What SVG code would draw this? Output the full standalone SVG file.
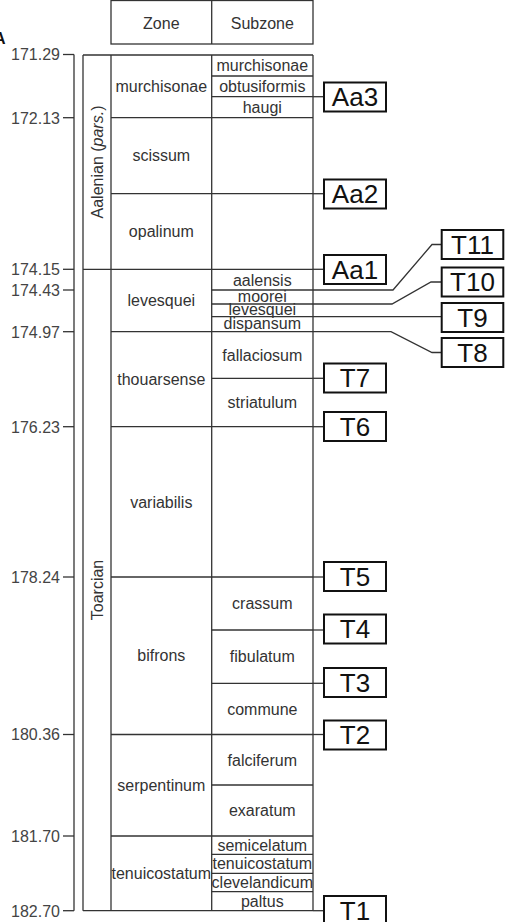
<svg xmlns="http://www.w3.org/2000/svg" width="506" height="922" viewBox="0 0 506 922">
<style>
text{font-family:"Liberation Sans",Arial,sans-serif;fill:#333}
.t{font-size:16px;text-anchor:middle}
.n{font-size:16px;text-anchor:end;fill:#444}
.ln{stroke:#333;stroke-width:1.3;fill:none}
.bx{fill:#fff;stroke:#111;stroke-width:2}
.bt{font-size:26px;text-anchor:middle;fill:#111}
</style>
<rect width="506" height="922" fill="#fff"/>
<text x="-6" y="43.5" style="font-size:16px;font-weight:bold;fill:#111">A</text>

<g id="header">
<rect class="ln" x="111" y="0.5" width="202" height="43.5"/>
<line class="ln" x1="211.7" y1="0.5" x2="211.7" y2="44"/>
<text class="t" x="161.3" y="28.5">Zone</text>
<text class="t" x="262.3" y="28.5">Subzone</text>
</g>

<g id="axis">
<line class="ln" x1="74" y1="54.5" x2="74" y2="910.7"/>
<g class="ln">
<line x1="63" y1="54.5" x2="74" y2="54.5"/>
<line x1="63" y1="117.7" x2="74" y2="117.7"/>
<line x1="63" y1="269.3" x2="74" y2="269.3"/>
<line x1="63" y1="290" x2="74" y2="290"/>
<line x1="63" y1="331.7" x2="74" y2="331.7"/>
<line x1="63" y1="426.7" x2="74" y2="426.7"/>
<line x1="63" y1="577" x2="74" y2="577"/>
<line x1="63" y1="734.5" x2="74" y2="734.5"/>
<line x1="63" y1="836" x2="74" y2="836"/>
<line x1="63" y1="910.7" x2="74" y2="910.7"/>
</g>
<text class="n" x="60" y="60.3">171.29</text>
<text class="n" x="60" y="123.5">172.13</text>
<text class="n" x="60" y="275.1">174.15</text>
<text class="n" x="60" y="295.8">174.43</text>
<text class="n" x="60" y="337.5">174.97</text>
<text class="n" x="60" y="432.5">176.23</text>
<text class="n" x="60" y="582.8">178.24</text>
<text class="n" x="60" y="740.3">180.36</text>
<text class="n" x="60" y="841.8">181.70</text>
<text class="n" x="60" y="916.5">182.70</text>
</g>

<g id="table">
<g class="ln">
<line x1="83" y1="55" x2="83" y2="910.7"/>
<line x1="111" y1="55" x2="111" y2="910.7"/>
<line x1="211.7" y1="55" x2="211.7" y2="910.7"/>
<line x1="313" y1="55" x2="313" y2="910.7"/>
<line x1="83" y1="55" x2="313" y2="55"/>
<line x1="83" y1="910.7" x2="313" y2="910.7"/>
<line x1="83" y1="269.3" x2="313" y2="269.3"/>
<line x1="111" y1="117.7" x2="313" y2="117.7"/>
<line x1="111" y1="193.7" x2="313" y2="193.7"/>
<line x1="111" y1="331.7" x2="313" y2="331.7"/>
<line x1="111" y1="426.7" x2="313" y2="426.7"/>
<line x1="111" y1="577" x2="313" y2="577"/>
<line x1="111" y1="734.5" x2="313" y2="734.5"/>
<line x1="111" y1="836" x2="313" y2="836"/>
<line x1="211.7" y1="76" x2="313" y2="76"/>
<line x1="211.7" y1="96.7" x2="313" y2="96.7"/>
<line x1="211.7" y1="290" x2="313" y2="290"/>
<line x1="211.7" y1="304" x2="313" y2="304"/>
<line x1="211.7" y1="316.7" x2="313" y2="316.7"/>
<line x1="211.7" y1="378.3" x2="313" y2="378.3"/>
<line x1="211.7" y1="630" x2="313" y2="630"/>
<line x1="211.7" y1="683.3" x2="313" y2="683.3"/>
<line x1="211.7" y1="785" x2="313" y2="785"/>
<line x1="211.7" y1="854.3" x2="313" y2="854.3"/>
<line x1="211.7" y1="873.3" x2="313" y2="873.3"/>
<line x1="211.7" y1="891.7" x2="313" y2="891.7"/>
</g>
</g>

<g id="stages">
<text class="t" transform="translate(102.7 162) rotate(-90)">Aalenian (<tspan font-style="italic">pars.</tspan>)</text>
<text class="t" transform="translate(102.7 590) rotate(-90)">Toarcian</text>
</g>

<g id="zones">
<text class="t" x="161.3" y="92">murchisonae</text>
<text class="t" x="161.3" y="161">scissum</text>
<text class="t" x="161.3" y="237">opalinum</text>
<text class="t" x="161.3" y="306">levesquei</text>
<text class="t" x="161.3" y="385">thouarsense</text>
<text class="t" x="161.3" y="507.5">variabilis</text>
<text class="t" x="161.3" y="661.3">bifrons</text>
<text class="t" x="161.3" y="790.8">serpentinum</text>
<text class="t" x="161.3" y="879">tenuicostatum</text>
</g>

<g id="subzones">
<text class="t" x="262.3" y="71">murchisonae</text>
<text class="t" x="262.3" y="92">obtusiformis</text>
<text class="t" x="262.3" y="112.5">haugi</text>
<text class="t" x="262.3" y="285.5">aalensis</text>
<text class="t" x="262.3" y="301.5">moorei</text>
<text class="t" x="262.3" y="315">levesquei</text>
<text class="t" x="262.3" y="329">dispansum</text>
<text class="t" x="262.3" y="360.7">fallaciosum</text>
<text class="t" x="262.3" y="408">striatulum</text>
<text class="t" x="262.3" y="608.7">crassum</text>
<text class="t" x="262.3" y="662.3">fibulatum</text>
<text class="t" x="262.3" y="714.8">commune</text>
<text class="t" x="262.3" y="765.8">falciferum</text>
<text class="t" x="262.3" y="816.3">exaratum</text>
<text class="t" x="262.3" y="850.6">semicelatum</text>
<text class="t" x="262.3" y="869.3">tenuicostatum</text>
<text class="t" x="262.3" y="888">clevelandicum</text>
<text class="t" x="262.3" y="906.6">paltus</text>
</g>

<g id="connectors" class="ln">
<path d="M313 96.7H324"/>
<path d="M313 193.7H324"/>
<path d="M313 269.3H324"/>
<path d="M313 290H393L432 244.5H441.7"/>
<path d="M313 304H392L431 282H441.7"/>
<path d="M313 316.7H441.7"/>
<path d="M313 331.7H391L432 352.5H441.7"/>
<path d="M313 378.3H324"/>
<path d="M313 426.7H324"/>
<path d="M313 577H324"/>
<path d="M313 630H324"/>
<path d="M313 683.3H324"/>
<path d="M313 734.5H324"/>
<path d="M313 910.7H324"/>
</g>

<g id="Aa3"><rect class="bx" x="324" y="82.5" width="62" height="29"/><text class="bt" x="355" y="106.3">Aa3</text></g>
<g id="Aa2"><rect class="bx" x="324" y="179.5" width="62" height="29"/><text class="bt" x="355" y="203.3">Aa2</text></g>
<g id="Aa1"><rect class="bx" x="324" y="255" width="62" height="29"/><text class="bt" x="355" y="278.8">Aa1</text></g>
<g id="T11"><rect class="bx" x="441.7" y="230" width="61.6" height="29"/><text class="bt" x="472.5" y="253.8">T11</text></g>
<g id="T10"><rect class="bx" x="441.7" y="267.5" width="61.6" height="29"/><text class="bt" x="472.5" y="291.3">T10</text></g>
<g id="T9"><rect class="bx" x="441.7" y="303" width="61.6" height="29"/><text class="bt" x="472.5" y="326.8">T9</text></g>
<g id="T8"><rect class="bx" x="441.7" y="338" width="61.6" height="29"/><text class="bt" x="472.5" y="361.8">T8</text></g>
<g id="T7"><rect class="bx" x="324" y="363.5" width="62" height="29"/><text class="bt" x="355" y="387.3">T7</text></g>
<g id="T6"><rect class="bx" x="324" y="412" width="62" height="29"/><text class="bt" x="355" y="435.8">T6</text></g>
<g id="T5"><rect class="bx" x="324" y="562" width="62" height="29"/><text class="bt" x="355" y="585.8">T5</text></g>
<g id="T4"><rect class="bx" x="324" y="614.5" width="62" height="29"/><text class="bt" x="355" y="638.3">T4</text></g>
<g id="T3"><rect class="bx" x="324" y="668" width="62" height="29"/><text class="bt" x="355" y="691.8">T3</text></g>
<g id="T2"><rect class="bx" x="324" y="720.5" width="62" height="29"/><text class="bt" x="355" y="744.3">T2</text></g>
<g id="T1"><rect class="bx" x="324" y="896" width="62" height="29"/><text class="bt" x="355" y="919.8">T1</text></g>
</svg>
